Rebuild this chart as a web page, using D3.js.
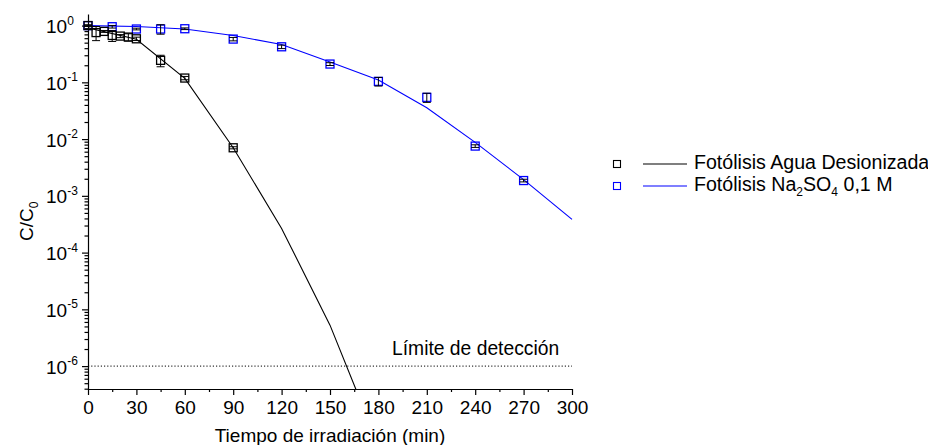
<!DOCTYPE html>
<html><head><meta charset="utf-8">
<script src="https://cdn.jsdelivr.net/npm/d3@7"></script>
<style>
body{margin:0;background:#fff;}
text{font-family:"Liberation Sans",Arial,sans-serif;}
</style></head>
<body>
<script>
// ---- data ----
const tBlack = [0, 5, 10, 15, 20, 25, 30, 45, 60, 90];
const cBlack = [1.0, 0.753, 0.79, 0.67, 0.653, 0.627, 0.585, 0.244, 0.119, 0.00703];
const eBlack = [0.02, 0.21, 0.03, 0.145, 0.04, 0.09, 0.04, 0.056, 0.008, 0.0003];

const tBlue = [0, 15, 30, 45, 60, 90, 120, 150, 180, 210, 240, 270];
const cBlue = [1.0, 0.955, 0.87, 0.87, 0.88, 0.578, 0.423, 0.21, 0.104, 0.0543, 0.00753, 0.00186];
const eBlue = [0.03, 0.05, 0.03, 0.165, 0.03, 0.04, 0.03, 0.012, 0.018, 0.01, 0.0004, 0.0001];

const fitBlackT = [0, 30, 60, 90, 120, 150, 180];
const fitBlack = [0.912, 0.575, 0.1175, 0.00703, 2.67e-4, 5.27e-6, 4.07e-8];
const fitBlueT = [0, 30, 60, 90, 120, 150, 180, 210, 240, 270, 300];
const fitBlue = [1.0, 0.966, 0.871, 0.668, 0.463, 0.229, 0.1096, 0.0357, 0.00875, 0.00193, 0.000385];

const xTicks = [0, 30, 60, 90, 120, 150, 180, 210, 240, 270, 300];
const xMinor = [15, 45, 75, 105, 135, 165, 195, 225, 255, 285];
const yExps = [0, -1, -2, -3, -4, -5, -6];
const detectionLimit = 1e-6;

const seriesNames = ["Fotólisis Agua Desionizada", "Fotólisis Na2SO4 0,1 M"];
const colors = ["#000000", "#0000ff"];

// ---- layout ----
const W = 928, H = 445;
const L = 88, R = 572, T = 14, B = 389;
const svg = d3.select("body").append("svg").attr("width", W).attr("height", H);

const x = d3.scaleLinear().domain([0, 300]).range([L, R]);
const y = d3.scaleLog().domain([3.95e-7, 1.6]).range([B, T]);

svg.append("defs").append("clipPath").attr("id", "clip")
  .append("rect").attr("x", L).attr("y", T).attr("width", R - L + 4).attr("height", B - T);

// axes
const gx = svg.append("g").attr("transform", `translate(0,${B})`)
  .call(d3.axisBottom(x).tickValues(xTicks).tickSize(6).tickSizeOuter(0).tickPadding(5.5).tickFormat(d => d));
gx.selectAll("text").attr("font-size", 19).attr("font-family", "Liberation Sans, Arial, sans-serif").attr("fill", "#000");
const gxm = svg.append("g").attr("transform", `translate(0,${B})`)
  .call(d3.axisBottom(x).tickValues(xMinor).tickSize(3).tickFormat(""));
gxm.select(".domain").remove();

const yMajors = yExps.map(e => Math.pow(10, e));
const yMinors = [];
for (let e = -7; e <= 0; e++) for (let m = 2; m <= 9; m++) {
  const v = m * Math.pow(10, e);
  if (v >= 3.95e-7 && v <= 1.6) yMinors.push(v);
}
const gy = svg.append("g").attr("transform", `translate(${L},0)`)
  .call(d3.axisLeft(y).tickValues(yMajors).tickSize(6).tickSizeOuter(0).tickFormat(""));
const gym = svg.append("g").attr("transform", `translate(${L},0)`)
  .call(d3.axisLeft(y).tickValues(yMinors).tickSize(3.5).tickFormat(""));
gym.select(".domain").remove();
svg.selectAll(".domain, .tick line").attr("stroke", "#000").attr("stroke-width", 1.2);

// y tick labels 10^n
yExps.forEach(e => {
  const yy = y(Math.pow(10, e));
  const t = svg.append("text").attr("x", 46).attr("y", yy + 7.5).attr("font-size", 19).attr("fill", "#000");
  t.append("tspan").text("10");
  t.append("tspan").attr("font-size", 12).attr("dy", -8.5).text(String(e));
});

// axis titles
svg.append("text").attr("x", (L + R) / 2).attr("y", 442).attr("text-anchor", "middle")
  .attr("font-size", 19).attr("fill", "#000").text("Tiempo de irradiación (min)");
const yl = svg.append("text").attr("transform", "translate(33,241) rotate(-90)")
  .attr("font-size", 19).attr("fill", "#000");
yl.append("tspan").text("C/C");
yl.append("tspan").attr("font-size", 12).attr("dy", 5).text("0");

// detection limit
svg.append("line").attr("x1", L).attr("x2", R).attr("y1", y(detectionLimit)).attr("y2", y(detectionLimit))
  .attr("stroke", "#000").attr("stroke-width", 1).attr("stroke-dasharray", "1.2,2");
svg.append("text").attr("x", 392).attr("y", 355).attr("font-size", 19.3).attr("fill", "#000").text("Límite de detección");

// fit lines
const plot = svg.append("g").attr("clip-path", "url(#clip)");
const line = d3.line().x(d => x(d[0])).y(d => y(d[1]));
plot.append("path").datum(fitBlackT.map((t, i) => [t, fitBlack[i]]))
  .attr("d", line).attr("fill", "none").attr("stroke", colors[0]).attr("stroke-width", 1.1);
plot.append("path").datum(fitBlueT.map((t, i) => [t, fitBlue[i]]))
  .attr("d", line).attr("fill", "none").attr("stroke", colors[1]).attr("stroke-width", 1.1);

// points + error bars
const S = 8;
function drawSeries(ts, cs, es, col) {
  const g = svg.append("g");
  ts.forEach((t, i) => {
    const cx = x(t), cy = y(cs[i]);
    g.append("rect").attr("x", cx - S / 2).attr("y", cy - S / 2).attr("width", S).attr("height", S)
      .attr("fill", "none").attr("stroke", col).attr("stroke-width", 1.3);
    const y1 = y(cs[i] + es[i]), y2 = y(Math.max(cs[i] - es[i], 1e-9));
    g.append("line").attr("x1", cx).attr("x2", cx).attr("y1", y1).attr("y2", y2).attr("stroke", "#000").attr("stroke-width", 1);
    [y1, y2].forEach(yy => g.append("line").attr("x1", cx - 4).attr("x2", cx + 4).attr("y1", yy).attr("y2", yy)
      .attr("stroke", "#000").attr("stroke-width", 1));
  });
}
drawSeries(tBlue, cBlue, eBlue, colors[1]);
drawSeries(tBlack, cBlack, eBlack, colors[0]);

// legend
const legY = [164, 186];
seriesNames.forEach((name, i) => {
  const yy = legY[i];
  svg.append("rect").attr("x", 617 - 3.5).attr("y", yy - 3.5).attr("width", 7).attr("height", 7)
    .attr("fill", "none").attr("stroke", colors[i]).attr("stroke-width", 1.1);
  svg.append("line").attr("x1", 643).attr("x2", 687).attr("y1", yy).attr("y2", yy)
    .attr("stroke", colors[i]).attr("stroke-width", 1.1);
  const t = svg.append("text").attr("x", 694).attr("y", yy + 4.5).attr("font-size", 19.6).attr("fill", "#000");
  if (i === 0) t.text(name);
  else {
    t.append("tspan").text("Fotólisis Na");
    t.append("tspan").attr("font-size", 12).attr("dy", 5).text("2");
    t.append("tspan").attr("dy", -5).text("SO");
    t.append("tspan").attr("font-size", 12).attr("dy", 5).text("4");
    t.append("tspan").attr("dy", -5).text(" 0,1 M");
  }
});
</script>
</body></html>
